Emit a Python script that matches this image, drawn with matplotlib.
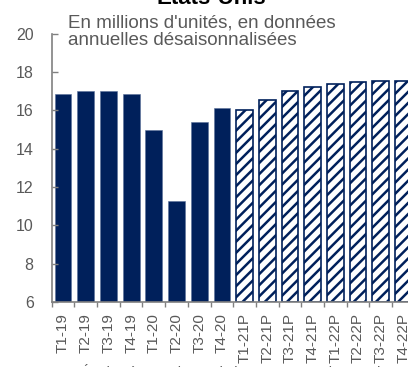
import matplotlib
matplotlib.use("Agg")
import matplotlib.pyplot as plt

# Ventes de vehicules, Etats-Unis (millions d'unites, annualise)
quarters = ["T1-19", "T2-19", "T3-19", "T4-19", "T1-20", "T2-20", "T3-20", "T4-20",
            "T1-21P", "T2-21P", "T3-21P", "T4-21P", "T1-22P", "T2-22P", "T3-22P", "T4-22P"]
sales = [16.86, 17.02, 17.02, 16.86, 15.0, 11.27, 15.38, 16.12,
         16.04, 16.56, 17.02, 17.22, 17.38, 17.47, 17.54, 17.54]
is_forecast = [q.endswith("P") for q in quarters]

NAVY = "#00205b"
GREY = "#595959"
SPINE = "#808080"

plt.rcParams["font.family"] = ["Liberation Sans", "DejaVu Sans"]
plt.rcParams["hatch.linewidth"] = 1.8
plt.rcParams["hatch.color"] = NAVY

fig = plt.figure(figsize=(4.08, 3.67), dpi=100)
ax = fig.add_axes([0.1267, 0.1777, 0.890, 0.730])

x = list(range(len(quarters)))
for xi, val, fc in zip(x, sales, is_forecast):
    if fc:
        ax.bar(xi, val - 6, bottom=6, width=0.74, facecolor="white",
               edgecolor=NAVY, hatch="///", linewidth=1.2)
    else:
        ax.bar(xi, val - 6, bottom=6, width=0.74, color=NAVY,
               edgecolor="#5a6f99", linewidth=0.4)

ax.set_ylim(6, 20)
ax.set_xlim(-0.5, len(quarters) - 0.5)
ax.set_yticks([6, 8, 10, 12, 14, 16, 18, 20])

# ticks between categories, labels under the bars
ax.set_xticks([i - 0.5 for i in x], minor=False)
ax.set_xticklabels([])
ax.set_xticks(x, minor=True)
ax.set_xticklabels(quarters, minor=True, rotation=90, fontsize=11, color=GREY)
ax.tick_params(axis="x", which="minor", length=0, pad=8)
ax.tick_params(axis="x", which="major", direction="out", length=3.5,
               color=SPINE, width=1)
ax.tick_params(axis="y", direction="in", length=4, color=SPINE, width=1,
               labelsize=11.5, labelcolor=GREY, pad=13)

for side in ["top", "right"]:
    ax.spines[side].set_visible(False)
for side in ["left", "bottom"]:
    ax.spines[side].set_color(SPINE)
    ax.spines[side].set_linewidth(1.2)

fig.text(0.518, 1 - 4 / 367, "États-Unis", ha="center", va="baseline",
         fontsize=16, fontweight="bold", color="black")
fig.text(0.167, 1 - 14 / 367, "En millions d'unités, en données\nannuelles désaisonnalisées",
         ha="left", va="top", fontsize=13.5, color=GREY, linespacing=1.08)
fig.text(0.008, 1 - 364 / 367, "Sources :     Études économiques de la Banque Scotia, Wards.",
         ha="left", va="top", fontsize=10, color=GREY)

fig.savefig("out.png", dpi=100)
